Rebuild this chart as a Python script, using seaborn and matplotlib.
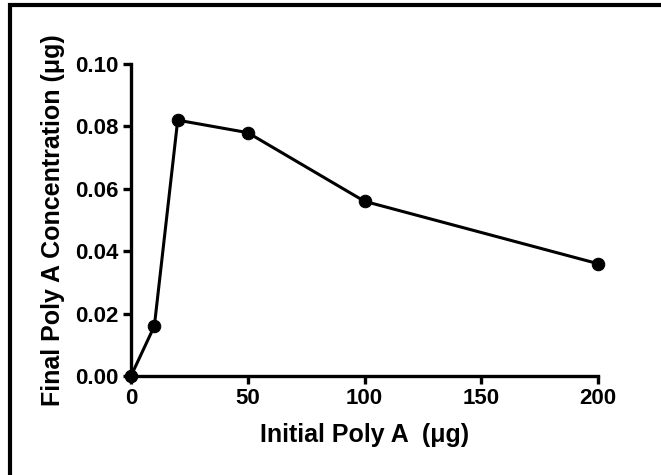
import pandas as pd
import matplotlib
matplotlib.use('Agg')
import matplotlib.pyplot as plt
import seaborn as sns
from matplotlib.patches import Rectangle

# Data
initial_poly_a = [0, 10, 20, 50, 100, 200]
final_conc = [0.0, 0.016, 0.082, 0.078, 0.056, 0.036]

df = pd.DataFrame({'Initial': initial_poly_a, 'Final': final_conc})

sns.set_style('ticks')
plt.rcParams['font.family'] = ['Liberation Sans', 'DejaVu Sans']
plt.rcParams['font.weight'] = 'bold'
plt.rcParams['text.color'] = 'black'
plt.rcParams['axes.labelcolor'] = 'black'

fig = plt.figure(figsize=(6.61, 4.75), dpi=100)
ax = fig.add_axes([131 / 661, 1 - 376 / 475, (598 - 131) / 661, (376 - 64) / 475])

sns.lineplot(data=df, x='Initial', y='Final', ax=ax, color='black',
             linewidth=2.2, marker='o', markersize=9, markeredgecolor='black',
             clip_on=False, zorder=5)

ax.set_xlim(0, 200)
ax.set_ylim(0, 0.10)
ax.set_xticks([0, 50, 100, 150, 200])
ax.set_yticks([0.00, 0.02, 0.04, 0.06, 0.08, 0.10])
ax.set_yticklabels([f'{v:.2f}' for v in ax.get_yticks()])

sns.despine(ax=ax)
for side in ['left', 'bottom']:
    ax.spines[side].set_linewidth(2.4)
    ax.spines[side].set_color('black')
ax.tick_params(axis='both', width=2.4, length=6, pad=3, labelsize=16, colors='black')
for lab in ax.get_xticklabels() + ax.get_yticklabels():
    lab.set_fontweight('bold')

ax.set_xlabel('Initial Poly A  (\u03bcg)', fontsize=18, fontweight='bold',
              labelpad=10, color='black')
ax.set_ylabel('Final Poly A Concentration (\u03bcg)', fontsize=18, fontweight='bold',
              labelpad=7, color='black')

# outer frame (right and bottom edges fall outside the picture)
fig.patches.append(Rectangle((10 / 661, -0.2), 1.5, 1.2 - 5 / 475,
                             transform=fig.transFigure, fill=False,
                             edgecolor='black', linewidth=3, zorder=10))

fig.savefig('out.png', dpi=100)
